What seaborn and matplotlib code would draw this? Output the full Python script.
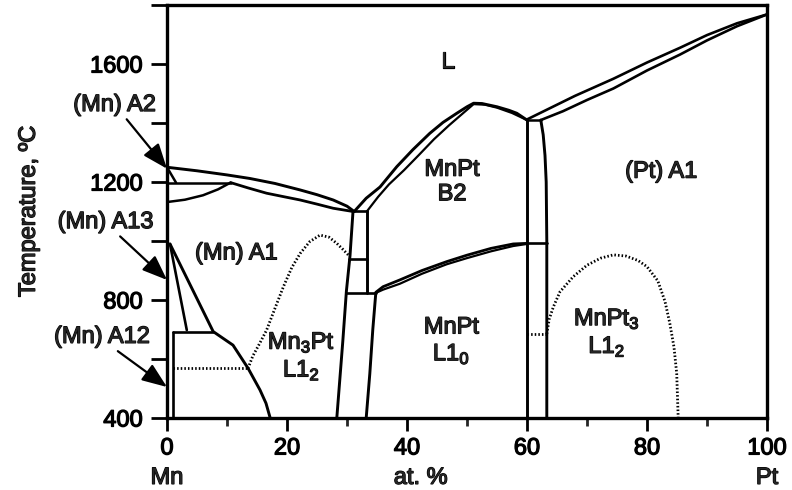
import matplotlib
matplotlib.use("Agg")
import matplotlib.pyplot as plt
import matplotlib.patheffects as pe
from matplotlib.ticker import MultipleLocator, FixedLocator
import seaborn as sns

# ---- phase boundaries of the Mn-Pt system (x in at.% Pt, T in degC) ----
# liquidus and (Mn) A1 solidus on the Mn side
liq_mn_x = [0, 5, 10, 13.8, 18, 22.2, 25, 27.7, 30, 31.2]
liq_mn_T = [1250, 1238, 1224, 1212, 1195, 1173, 1157, 1139, 1118, 1100]
sol_a1_x = [10.6, 13.5, 16.6, 19.5, 22.2, 25, 27.7, 31.0]
sol_a1_T = [1198, 1180, 1162, 1150, 1139, 1125, 1111, 1100]
# (Mn) A2 field
perit_a2_x = [0, 10.6]
perit_a2_T = [1198, 1198]
a2_low_x = [0, 3, 6, 8.5, 10.6]
a2_low_T = [1132, 1140, 1155, 1175, 1198]
a2_sol_x = [0, 1.5]
a2_sol_T = [1250, 1198]
# (Mn) A13 / A12 fields
a1_solvus_x = [0.5, 7.7, 11.0, 13.5, 15.5, 16.5, 17.2]
a1_solvus_T = [990, 693, 647, 569, 495, 450, 400]
a13_x = [0.5, 3.3]
a13_T = [990, 698]
eutectoid_mn_x = [1.0, 7.7]
eutectoid_mn_T = [690, 690]
a12_x = [1.0, 1.0]
a12_T = [690, 400]
# ordering lines (dotted)
order_mn_x = [1.0, 13.5]
order_mn_T = [568, 568]
mn3pt_x = [13.5, 14.3, 15.5, 16.6, 18, 19.4, 20.8, 22.2, 23.8, 25.5, 27, 28.3, 29.3, 30.2]
mn3pt_T = [568, 610, 655, 698, 772, 845, 910, 958, 998, 1020, 1013, 992, 972, 953]
order_60_x = [60, 63.3]
order_60_T = [685, 685]
mnpt3_x = [63.3, 63.7, 64.4, 65.5, 67.7, 70, 72.3, 74.4, 76.5, 78.5, 80.0, 81.8,
           83.0, 83.8, 84.5, 84.95, 85.2]
mnpt3_T = [685, 735, 777, 828, 879, 918, 942, 953, 949, 934, 913, 865,
           795, 721, 640, 551, 400]
# two-phase field around 30 at.%
box_left_x = [31.0, 30.5, 29.9, 29.3, 28.3]
box_left_T = [1100, 950, 830, 660, 400]
box_right_x = [33.3, 33.3]
box_right_T = [1100, 824]
eutectic_x = [31.0, 33.3]
eutectic_T = [1100, 1100]
h939_x = [30.4, 33.3]
h939_T = [939, 939]
eutectoid_x = [29.9, 34.8]
eutectoid_T = [824, 824]
l10_left_x = [34.8, 34.3, 33.8, 33.2]
l10_left_T = [824, 700, 550, 400]
# MnPt B2 liquidus / solidus
liq_b2_x = [31.2, 33.2, 35.5, 38.3, 41, 43.8, 46, 48.3, 50, 51.1, 52.5, 55.0, 57, 58.3, 60.0]
liq_b2_T = [1100, 1145, 1183, 1252, 1310, 1365, 1402, 1433, 1455, 1467, 1466, 1455, 1443, 1433, 1410]
sol_b2_x = [33.3, 35.2, 37.0, 39.5, 42, 44.5, 47, 49.5, 51.1, 53, 55, 57.5, 60]
sol_b2_T = [1100, 1150, 1192, 1240, 1292, 1345, 1392, 1436, 1464, 1462, 1452, 1434, 1410]
# B2 / L1_0 transition lens
lens_up_x = [34.8, 36, 38.8, 42.5, 46.6, 50, 54, 57.7, 60]
lens_up_T = [826, 845, 868, 900, 930, 952, 975, 990, 992]
lens_lo_x = [34.8, 36, 38.8, 42.5, 46.6, 50, 54, 57.7, 60]
lens_lo_T = [824, 835, 855, 889, 921, 942, 965, 983, 990]
# boundaries near 60-63 at.%
v60_x = [60, 60]
v60_T = [1410, 400]
perit_x = [60, 62.3]
perit_T = [1410, 1410]
pt_solvus_x = [62.3, 62.7, 63.0, 63.2, 63.3, 63.3]
pt_solvus_T = [1410, 1360, 1290, 1200, 1000, 400]
h992_x = [60, 63.3]
h992_T = [992, 992]
# (Pt) liquidus / solidus
liq_pt_x = [60, 64, 68, 74.4, 80, 85.5, 90, 95, 100]
liq_pt_T = [1412, 1452, 1492, 1550, 1605, 1655, 1698, 1738, 1768]
sol_pt_x = [62.3, 66, 70, 74.4, 80, 85.5, 90, 95, 100]
sol_pt_T = [1410, 1440, 1478, 1517, 1578, 1632, 1680, 1728, 1768]

solid_lines = [
    (liq_mn_x, liq_mn_T, 2.1), (sol_a1_x, sol_a1_T, 2.0),
    (perit_a2_x, perit_a2_T, 1.8), (a2_low_x, a2_low_T, 1.8), (a2_sol_x, a2_sol_T, 1.8),
    (a1_solvus_x, a1_solvus_T, 2.1), (a13_x, a13_T, 1.9),
    (eutectoid_mn_x, eutectoid_mn_T, 1.9), (a12_x, a12_T, 1.9),
    (box_left_x, box_left_T, 2.1), (box_right_x, box_right_T, 2.1),
    (eutectic_x, eutectic_T, 1.9), (h939_x, h939_T, 1.9), (eutectoid_x, eutectoid_T, 1.9),
    (l10_left_x, l10_left_T, 2.1),
    (liq_b2_x, liq_b2_T, 2.1), (sol_b2_x, sol_b2_T, 1.6),
    (lens_up_x, lens_up_T, 2.0), (lens_lo_x, lens_lo_T, 1.6),
    (v60_x, v60_T, 2.1), (perit_x, perit_T, 1.8), (pt_solvus_x, pt_solvus_T, 2.1),
    (h992_x, h992_T, 1.9),
    (liq_pt_x, liq_pt_T, 1.9), (sol_pt_x, sol_pt_T, 1.9),
]
dotted_lines = [
    (order_mn_x, order_mn_T), (mn3pt_x, mn3pt_T),
    (order_60_x, order_60_T), (mnpt3_x, mnpt3_T),
]

# phase-field labels
field_labels = ["L", "MnPt\nB2", "(Pt) A1", "(Mn) A1", "Mn$_3$Pt\nL1$_2$",
                "MnPt\nL1$_0$", "MnPt$_3$\nL1$_2$"]
field_x = [46.8, 47.5, 82.4, 11.6, 22.4, 47.4, 73.3]
field_T = [1607, 1200, 1235, 958, 610, 660, 690]

# arrowed labels for the pure-Mn allotropes
allo_labels = ["(Mn) A2", "(Mn) A13", "(Mn) A12"]
allo_text_x = [-8.7, -10.2, -10.8]
allo_text_T = [1461, 1064, 675]
allo_T = [1245, 868, 505]

x_ticks = [0, 20, 40, 60, 80, 100]
y_ticks = [400, 800, 1200, 1600]

sns.set_style("ticks")
plt.rcParams["font.family"] = ["Liberation Sans", "DejaVu Sans"]
plt.rcParams["mathtext.fontset"] = "custom"
plt.rcParams["mathtext.rm"] = "Liberation Sans"
plt.rcParams["mathtext.default"] = "regular"

FS = 17
heavy = [pe.withStroke(linewidth=0.9, foreground="black")]

fig = plt.figure(figsize=(7.92, 4.90), dpi=100)
ax = fig.add_axes([167 / 792, 72 / 490, 600 / 792, 413 / 490])

for xs, ts, lw in solid_lines:
    sns.lineplot(x=xs, y=ts, ax=ax, color="black", lw=lw, sort=False,
                 estimator=None, solid_capstyle="round")
for xs, ts in dotted_lines:
    sns.lineplot(x=xs, y=ts, ax=ax, color="black", lw=2.0, sort=False,
                 estimator=None, linestyle=(0, (0.55, 0.75)))

ax.set_xlim(0, 100)
ax.set_ylim(400, 1800)

for lab, x, t in zip(field_labels, field_x, field_T):
    ax.text(x, t, lab, ha="center", va="center", fontsize=FS, linespacing=1.15,
            path_effects=heavy)

for lab, tx, tt, t in zip(allo_labels, allo_text_x, allo_text_T, allo_T):
    ax.annotate(lab, xy=(0, t), xytext=(tx, tt), xycoords="data", textcoords="data",
                ha="center", va="center", fontsize=FS, annotation_clip=False,
                path_effects=heavy,
                arrowprops=dict(arrowstyle="-|>,head_length=0.9,head_width=0.35",
                                color="black", lw=1.6, shrinkA=0, shrinkB=0,
                                relpos=(0.6, 0.05)))

# spines and ticks
for s in ax.spines.values():
    s.set_linewidth(2.4)
    s.set_color("black")
ax.xaxis.set_major_locator(FixedLocator(x_ticks))
ax.xaxis.set_minor_locator(MultipleLocator(10))
ax.yaxis.set_major_locator(FixedLocator(y_ticks))
ax.yaxis.set_minor_locator(FixedLocator([600, 1000, 1400, 1800]))
ax.tick_params(axis="x", which="major", direction="out", length=9, width=2.0,
               pad=5, labelsize=FS, colors="black")
ax.tick_params(axis="x", which="minor", direction="out", length=6, width=2.0)
ax.tick_params(axis="y", which="both", direction="out", length=11.5, width=2.0,
               pad=6, labelsize=FS, colors="black")
for lbl in ax.get_xticklabels() + ax.get_yticklabels():
    lbl.set_path_effects(heavy)

ax.set_xlabel("")
ax.set_ylabel("Temperature, \u00baC", fontsize=FS, path_effects=heavy)
ax.yaxis.set_label_coords(-0.212, 0.5)

xt = ax.get_xaxis_transform()
for x, lab in [(0, "Mn"), (42.3, "at. %"), (100, "Pt")]:
    ax.text(x, -0.145, lab, transform=xt, ha="center", va="center", fontsize=FS,
            path_effects=heavy)

fig.savefig("out.png", dpi=100)
